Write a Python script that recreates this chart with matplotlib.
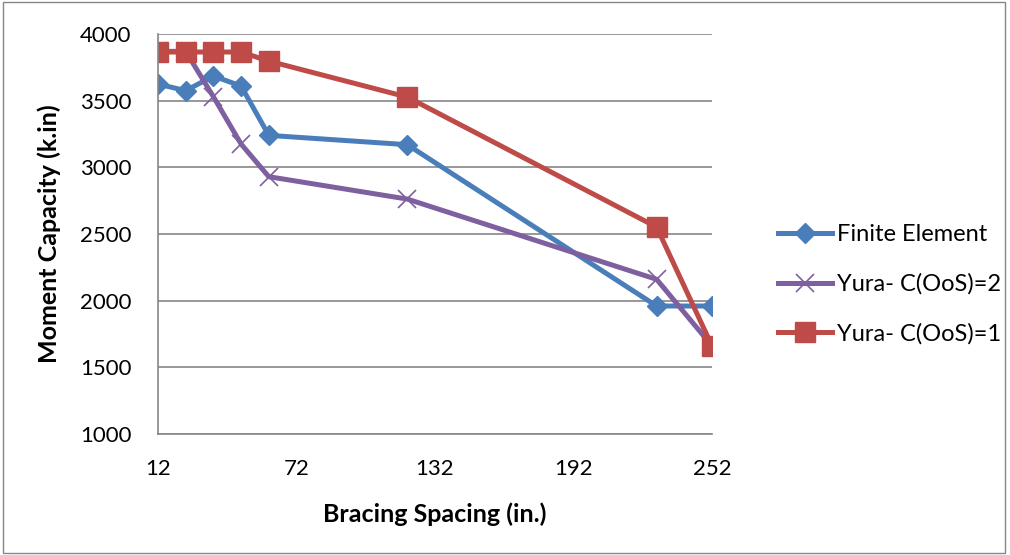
import matplotlib.pyplot as plt
from matplotlib.patches import Rectangle

plt.rcParams['font.family'] = ['Lato', 'DejaVu Sans']

spacing = [12, 24, 36, 48, 60, 120, 228, 252]
finite_element = [3625, 3575, 3685, 3610, 3240, 3170, 1960, 1960]
yura_c2 = [3870, 3870, 3530, 3175, 2930, 2762, 2160, 1660]
yura_c1 = [3865, 3865, 3865, 3865, 3797, 3527, 2552, 1660]

fig = plt.figure(figsize=(10.1, 5.55), dpi=100)
ax = fig.add_axes([0.1564, 0.218, 0.5486, 0.7207])

ax.plot(spacing, finite_element, color='#4A7EBB', lw=3.6, marker='D', ms=10,
        label='Finite Element')
ax.plot(spacing, yura_c2, color='#7E60A0', lw=3.6, marker='x', ms=13, mew=1.2,
        label='Yura- C(OoS)=2')
ax.plot(spacing, yura_c1, color='#BE4B48', lw=3.6, marker='s', ms=14,
        label='Yura- C(OoS)=1')

ax.set_xlim(12, 252)
ax.set_ylim(1000, 4000)
ax.set_xticks([12, 72, 132, 192, 252])
ax.set_yticks(range(1000, 4001, 500))
ax.grid(axis='y', color='#868686', lw=1.2)
ax.set_axisbelow(True)
for s in ['top', 'right']:
    ax.spines[s].set_visible(False)
for s in ['left', 'bottom']:
    ax.spines[s].set_color('#868686')
    ax.spines[s].set_linewidth(1.2)
ax.tick_params(length=0, labelsize=16)
ax.tick_params(axis='x', pad=18)
ax.tick_params(axis='y', pad=19)
ax.set_xlabel('Bracing Spacing (in.)', fontsize=18, fontweight='bold', labelpad=17)
ax.set_ylabel('Moment Capacity (k.in)', fontsize=18, fontweight='bold')
ax.yaxis.set_label_coords(-0.175, 0.5)

ax.legend(loc='center left', bbox_to_anchor=(1.08, 0.374), frameon=False,
          fontsize=17, handlelength=2.3, labelspacing=1.2, handletextpad=0.2)

fig.patches.append(Rectangle((0.003, 0.003), 0.992, 0.994, transform=fig.transFigure,
                             fill=False, edgecolor='#868686', lw=1))

fig.savefig('out.png', dpi=100)
